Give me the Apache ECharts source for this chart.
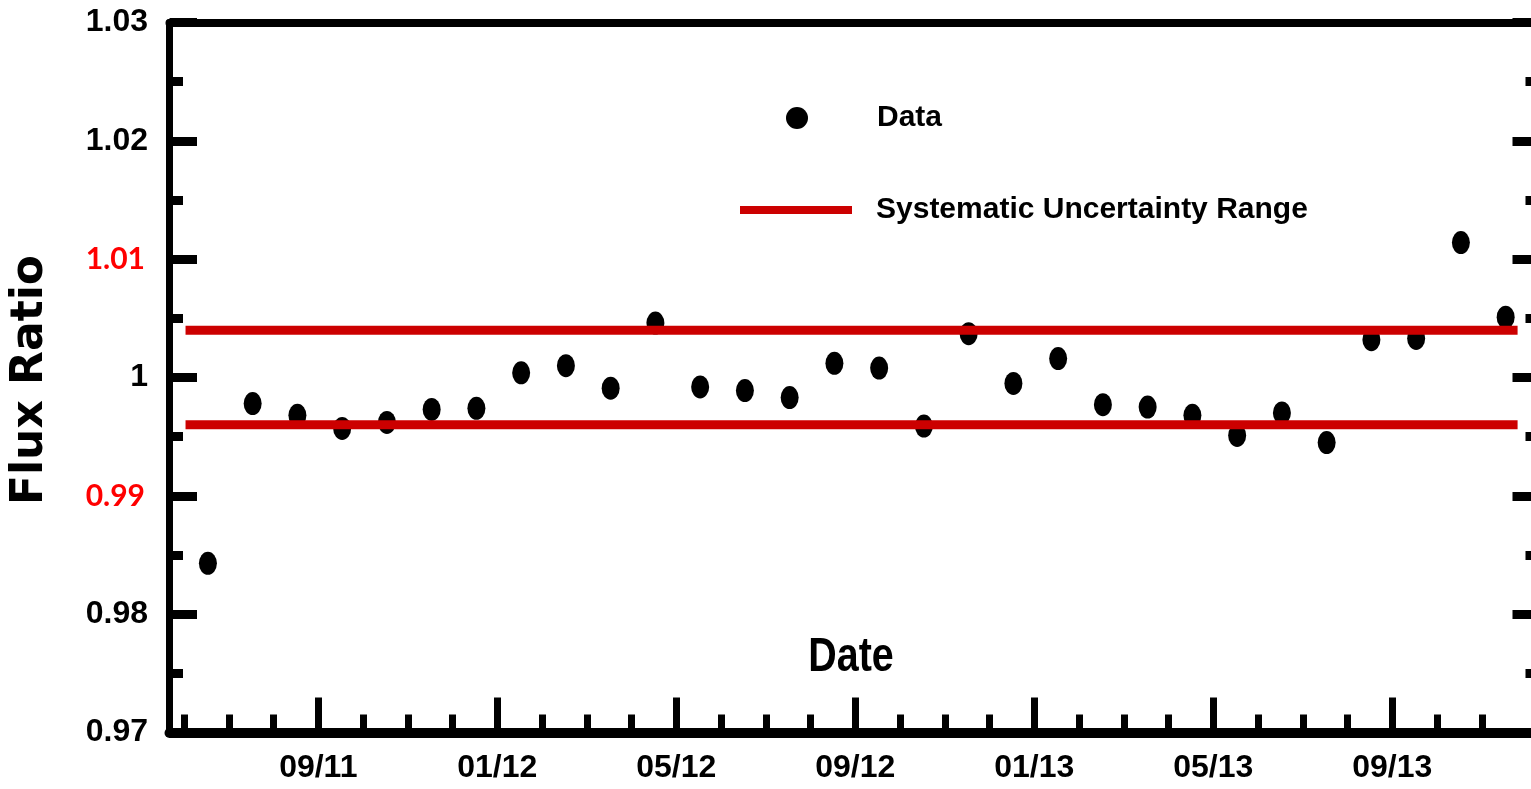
<!DOCTYPE html>
<html>
<head>
<meta charset="utf-8">
<script src="https://cdn.jsdelivr.net/npm/echarts@6/dist/echarts.min.js"></script>
<style>
    html, body { margin: 0; padding: 0; background: #fff; overflow: hidden; width: 1531px; height: 789px; }
    #chart { width: 1538px; height: 789px; }
</style>
</head>
<body>
<div id="chart"></div>
<script>
    // observation dates (one per month) and measured flux ratios
    const dates = [
        '2011-06-17', '2011-07-17', '2011-08-17', '2011-09-17', '2011-10-17', '2011-11-17',
        '2011-12-17', '2012-01-17', '2012-02-17', '2012-03-17', '2012-04-17', '2012-05-17',
        '2012-06-17', '2012-07-17', '2012-08-17', '2012-09-17', '2012-10-17', '2012-11-17',
        '2012-12-17', '2013-01-17', '2013-02-17', '2013-03-17', '2013-04-17', '2013-05-17',
        '2013-06-17', '2013-07-17', '2013-08-17', '2013-09-17', '2013-10-17', '2013-11-17'
    ]
    const fluxRatio = [
        0.9843, 0.9978, 0.9968, 0.9957, 0.9962, 0.9973,
        0.9974, 1.0004, 1.0010, 0.9991, 1.0046, 0.9992,
        0.9989, 0.9983, 1.0012, 1.0008, 0.9959, 1.0037,
        0.9995, 1.0016, 0.9977, 0.9975, 0.9968, 0.9951,
        0.9970, 0.9945, 1.0032, 1.0033, 1.0114, 1.0051
    ]

    // systematic uncertainty band
    const bandStart = '2011-06-02'
    const bandEnd = '2013-11-25'
    const bandUpper = 1.004
    const bandLower = 0.996

    // x axis: months counted from 01/2011
    const majorTickMonths = [8, 12, 16, 20, 24, 28, 32]
    const majorTickLabels = ['09/11', '01/12', '05/12', '09/12', '01/13', '05/13', '09/13']
    const minorTickMonths = [5, 6, 7, 8, 9, 10, 11, 12, 13, 14, 15, 16, 17, 18, 19, 20,
        21, 22, 23, 24, 25, 26, 27, 28, 29, 30, 31, 32, 33, 34]

    // y axis labels (1.01 and 0.99 are drawn in red)
    const yTickValues = [0.97, 0.98, 0.99, 1.00, 1.01, 1.02, 1.03]
    const yTickLabels = ['0.97', '0.98', '0.99', '1', '1.01', '1.02', '1.03']
    const redLabels = ['1.01', '0.99']

    function monthPos (s) {
        const p = s.split('-').map(Number)
        return (p[0] - 2011) * 12 + (p[1] - 1) + (p[2] - 1) / 30
    }

    const SANS = "'Liberation Sans', Arial, sans-serif"
    const X_MIN = 4.675
    const X_MAX = 35.245

    const chart = echarts.init(document.getElementById('chart'))

    chart.setOption({
        animation: false,
        backgroundColor: '#fff',
        grid: {
            left: 169.5,
            right: 0.5,
            top: 22.5,
            bottom: 56.5
        },
        legend: [
            {
                left: 786,
                top: 103,
                padding: 0,
                selectedMode: false,
                itemWidth: 112,
                itemHeight: 22,
                data: [{name: 'Data', icon: 'circle'}],
                textStyle: {
                    fontFamily: SANS,
                    fontWeight: 'bold',
                    fontSize: 30,
                    color: '#000',
                    padding: [0, 0, 0, 19]
                }
            },
            {
                left: 740,
                top: 195,
                padding: 0,
                selectedMode: false,
                itemWidth: 112,
                itemHeight: 8,
                data: [{name: 'Systematic Uncertainty Range', icon: 'rect'}],
                textStyle: {
                    fontFamily: SANS,
                    fontWeight: 'bold',
                    fontSize: 30,
                    color: '#000',
                    padding: [0, 0, 0, 19]
                }
            }
        ],
        graphic: [
            {
                type: 'text',
                x: 851,
                y: 658,
                scaleX: 0.82,
                style: {
                    text: 'Date',
                    font: 'bold 48px ' + SANS,
                    fill: '#000',
                    textAlign: 'center',
                    textVerticalAlign: 'middle'
                }
            },
            {
                type: 'text',
                x: 31,
                y: 380,
                rotation: Math.PI / 2,
                style: {
                    text: 'Flux Ratio',
                    font: 'bold 44px "DejaVu Sans", sans-serif',
                    fill: '#000',
                    textAlign: 'center',
                    textVerticalAlign: 'middle'
                }
            }
        ],
        xAxis: [
            {
                // main axis: major ticks + labels
                type: 'value',
                position: 'bottom',
                min: X_MIN,
                max: X_MAX,
                splitLine: {show: false},
                axisLine: {show: true, lineStyle: {color: '#000', width: 10}},
                axisTick: {
                    show: true,
                    inside: true,
                    length: 35,
                    customValues: majorTickMonths,
                    lineStyle: {color: '#000', width: 7}
                },
                axisLabel: {
                    show: true,
                    customValues: majorTickMonths,
                    margin: 20,
                    color: '#000',
                    fontFamily: SANS,
                    fontWeight: 'bold',
                    fontSize: 32,
                    formatter (value) {
                        const i = majorTickMonths.indexOf(Math.round(value))
                        return i >= 0 ? majorTickLabels[i] : ''
                    }
                }
            },
            {
                // monthly minor ticks
                type: 'value',
                position: 'bottom',
                min: X_MIN,
                max: X_MAX,
                splitLine: {show: false},
                axisLine: {show: false},
                axisTick: {
                    show: true,
                    inside: true,
                    length: 18,
                    customValues: minorTickMonths,
                    lineStyle: {color: '#000', width: 7}
                },
                axisLabel: {show: false}
            },
            {
                // top frame
                type: 'value',
                position: 'top',
                min: X_MIN,
                max: X_MAX,
                splitLine: {show: false},
                axisLine: {show: true, lineStyle: {color: '#000', width: 8}},
                axisTick: {show: false},
                axisLabel: {show: false}
            }
        ],
        yAxis: [
            {
                type: 'value',
                position: 'left',
                min: 0.97,
                max: 1.03,
                interval: 0.01,
                splitLine: {show: false},
                axisLine: {show: true, lineStyle: {color: '#000', width: 7}},
                axisTick: {
                    show: true,
                    inside: true,
                    length: 27.5,
                    lineStyle: {color: '#000', width: 9}
                },
                minorTick: {
                    show: true,
                    splitNumber: 2,
                    length: 13.5,
                    lineStyle: {color: '#000', width: 9}
                },
                axisLabel: {
                    margin: 21.5,
                    color: '#000',
                    fontFamily: SANS,
                    fontWeight: 'bold',
                    fontSize: 32,
                    formatter (value) {
                        let label = ''
                        yTickValues.forEach(function (v, i) {
                            if (Math.abs(v - value) < 1e-6) label = yTickLabels[i]
                        })
                        return redLabels.indexOf(label) >= 0 ? '{red|' + label + '}' : label
                    },
                    rich: {
                        red: {
                            color: '#ff0000',
                            fontFamily: 'Lato, "Open Sans", sans-serif',
                            fontWeight: 'bold',
                            fontSize: 30,
                            padding: [0, 3, 0, 0]
                        }
                    }
                }
            },
            {
                type: 'value',
                position: 'right',
                min: 0.97,
                max: 1.03,
                interval: 0.01,
                splitLine: {show: false},
                axisLine: {show: true, lineStyle: {color: '#000', width: 7}},
                axisTick: {
                    show: true,
                    inside: true,
                    length: 25,
                    lineStyle: {color: '#000', width: 9}
                },
                minorTick: {
                    show: true,
                    splitNumber: 2,
                    length: 12,
                    lineStyle: {color: '#000', width: 9}
                },
                axisLabel: {show: false}
            }
        ],
        series: [
            {
                name: 'Systematic Uncertainty Range',
                type: 'line',
                xAxisIndex: 0,
                yAxisIndex: 0,
                symbol: 'none',
                color: '#cc0000',
                lineStyle: {color: '#cc0000', width: 9},
                data: [[monthPos(bandStart), bandUpper], [monthPos(bandEnd), bandUpper]]
            },
            {
                name: 'Systematic Uncertainty Range',
                type: 'line',
                xAxisIndex: 0,
                yAxisIndex: 0,
                symbol: 'none',
                color: '#cc0000',
                lineStyle: {color: '#cc0000', width: 9},
                data: [[monthPos(bandStart), bandLower], [monthPos(bandEnd), bandLower]]
            },
            {
                name: 'Data',
                type: 'scatter',
                xAxisIndex: 0,
                yAxisIndex: 0,
                symbol: 'path://M9,0A9,11.5,0,1,1,9,23A9,11.5,0,1,1,9,0Z',
                symbolKeepAspect: false,
                symbolSize: [18, 23],
                itemStyle: {color: '#000', opacity: 1},
                data: dates.map(function (d, i) {
                    return [monthPos(d), fluxRatio[i]]
                })
            }
        ]
    })
</script>
</body>
</html>
